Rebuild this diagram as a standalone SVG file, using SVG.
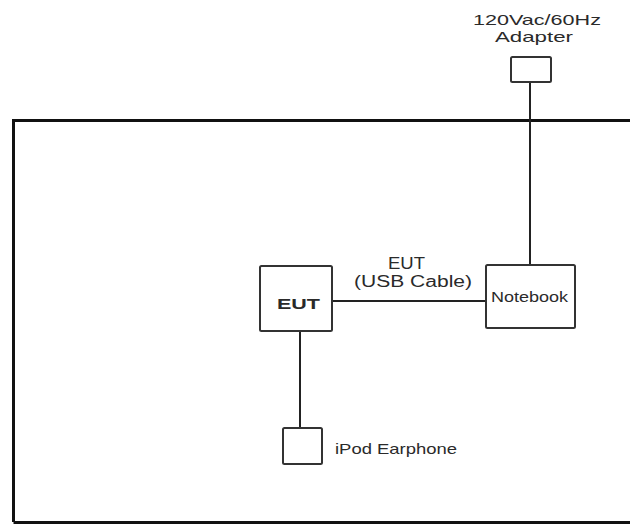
<svg xmlns="http://www.w3.org/2000/svg" width="630" height="525" viewBox="0 0 630 525">
<style>
.box{fill:#fff;stroke:#333;stroke-width:2}
.ln{stroke:#222;stroke-width:2;fill:none}
text{font-family:"Liberation Sans",Arial,sans-serif;fill:#2a2a2a}
</style>
<rect width="630" height="525" fill="#fff"/>
<path d="M13.5 522 V120.5 H640" fill="none" stroke="#111" stroke-width="3"/>
<path d="M13.5 522.5 H640" fill="none" stroke="#111" stroke-width="3"/>
<g id="connectors">
<line class="ln" x1="530" y1="82" x2="530" y2="265"/>
<line class="ln" x1="332" y1="301" x2="486" y2="301"/>
<line class="ln" x1="300" y1="331" x2="300" y2="428"/>
</g>
<g id="adapter">
<rect class="box" x="511" y="57" width="40" height="25" rx="1.5"/>
<text x="473" y="25" font-size="15" textLength="128" lengthAdjust="spacingAndGlyphs">120Vac/60Hz</text>
<text x="495" y="42" font-size="15" textLength="78" lengthAdjust="spacingAndGlyphs">Adapter</text>
</g>
<g id="eut">
<rect class="box" x="260" y="266" width="72" height="65" rx="1.5"/>
<text x="277" y="309" font-size="14" font-weight="bold" textLength="43" lengthAdjust="spacingAndGlyphs">EUT</text>
</g>
<g id="cable-label">
<text x="388" y="269" font-size="16" textLength="37" lengthAdjust="spacingAndGlyphs">EUT</text>
<text x="354" y="287" font-size="16" textLength="118" lengthAdjust="spacingAndGlyphs">(USB Cable)</text>
</g>
<g id="notebook">
<rect class="box" x="486" y="265" width="89" height="63" rx="1.5"/>
<text x="491" y="302" font-size="14" textLength="77" lengthAdjust="spacingAndGlyphs">Notebook</text>
</g>
<g id="earphone">
<rect class="box" x="283" y="428" width="39" height="36" rx="1.5"/>
<text x="335" y="454" font-size="15" textLength="122" lengthAdjust="spacingAndGlyphs">iPod Earphone</text>
</g>
</svg>
